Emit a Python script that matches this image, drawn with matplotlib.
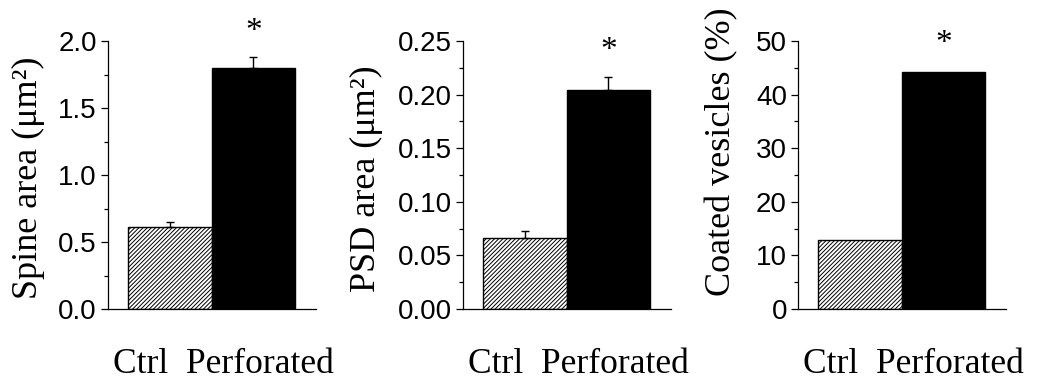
import matplotlib
matplotlib.use('Agg')
import matplotlib.pyplot as plt
from matplotlib.ticker import MultipleLocator, FormatStrFormatter

groups = ['Ctrl', 'Perforated']

spine_area = [0.61, 1.80]
spine_err = [0.04, 0.083]

psd_area = [0.066, 0.2045]
psd_err = [0.007, 0.012]

coated_pct = [12.9, 44.3]
coated_err = [0, 0]

ylabels = ['Spine area (\u03bcm\u00b2)', 'PSD area (\u03bcm\u00b2)', 'Coated vesicles (%)']
ylims = [2.0, 0.25, 50]
major_steps = [0.5, 0.05, 10]
tick_fmts = ['%.1f', '%.2f', '%.0f']
star_y = [2.067, 0.2413, 49.5]

W, H = 1042, 383
plt.rcParams['hatch.linewidth'] = 0.7
serif = ['Liberation Serif', 'DejaVu Serif']
sans = ['Liberation Sans', 'DejaVu Sans']

fig = plt.figure(figsize=(W / 100, H / 100), dpi=100)
lefts = [108, 463, 798]
label_xy = [(28, 178), (366, 179), (722, 152)]
data = [(spine_area, spine_err), (psd_area, psd_err), (coated_pct, coated_err)]

for k in range(3):
    ax = fig.add_axes([lefts[k] / W, 1 - 309 / H, 208 / W, 268 / H])
    vals, errs = data[k]
    ax.bar([0], [vals[0]], width=1, color='white', edgecolor='black',
           hatch='////////', linewidth=1)
    ax.bar([1], [vals[1]], width=1, color='black', edgecolor='black', linewidth=1)
    if any(errs):
        ax.errorbar([0, 1], vals, yerr=[[0, 0], errs], fmt='none',
                    ecolor='black', elinewidth=1, capsize=3, capthick=1)
    ax.set_xlim(-0.74, 1.75)
    ax.set_ylim(0, ylims[k])
    ax.yaxis.set_major_locator(MultipleLocator(major_steps[k]))
    ax.yaxis.set_minor_locator(MultipleLocator(major_steps[k] / 2))
    ax.yaxis.set_major_formatter(FormatStrFormatter(tick_fmts[k]))
    for s in ['top', 'right']:
        ax.spines[s].set_visible(False)
    ax.spines['left'].set_linewidth(0.9)
    ax.spines['bottom'].set_linewidth(0.9)
    ax.set_xticks([])
    ax.tick_params(axis='y', which='major', length=5, width=0.9, labelsize=20, pad=3)
    ax.tick_params(axis='y', which='minor', length=3, width=0.9)
    for lbl in ax.get_yticklabels():
        lbl.set_family(sans)
    ax.text(1, star_y[k], '*', family=serif, fontsize=24, ha='center', va='center')
    # y label and group names placed in figure pixels
    lx, ly = label_xy[k]
    fig.text(lx / W, 1 - ly / H, ylabels[k], family=serif, fontsize=26,
             rotation=90, ha='center', va='center')
    fig.text((lefts[k] + 5) / W, 1 - 373 / H, groups[0] + '  ' + groups[1],
             family=serif, fontsize=25.5, ha='left', va='baseline')

fig.savefig('out.png', dpi=100)
